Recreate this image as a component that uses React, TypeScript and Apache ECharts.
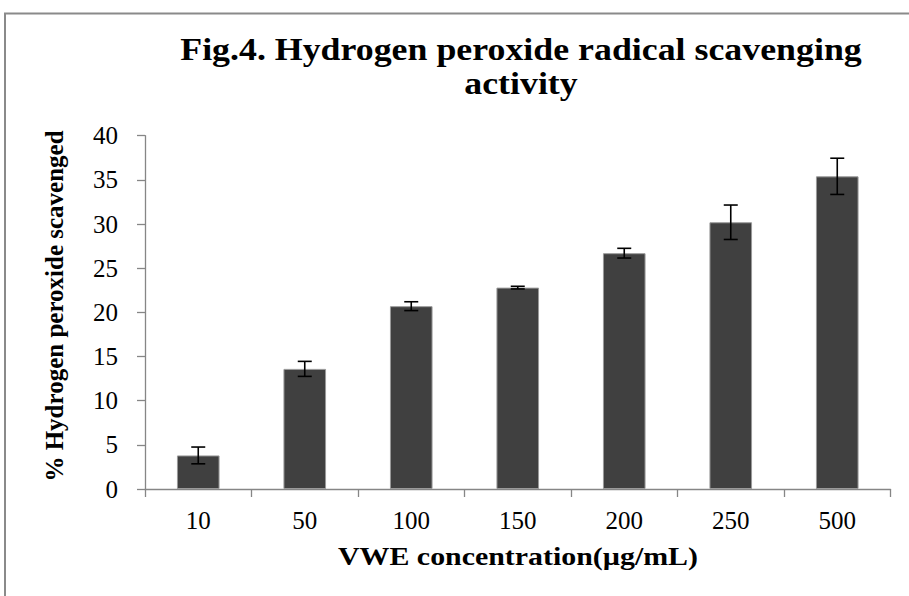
import React, { useEffect, useRef } from "react";
import * as echarts from "echarts";

const categories = ["10", "50", "100", "150", "200", "250", "500"];
const values = [3.8, 13.6, 20.7, 22.8, 26.7, 30.2, 35.4];
const errors = [0.95, 0.85, 0.5, 0.15, 0.55, 1.95, 2.05];
const yTicks = { min: 0, max: 40, interval: 5 };
const titleLines = ["Fig.4. Hydrogen peroxide radical scavenging", "activity"];
const xName = "VWE concentration(µg/mL)";
const yName = "% Hydrogen peroxide scavenged";

export default function App() {
  const ref = useRef<HTMLDivElement>(null);
  useEffect(() => {
    if (!ref.current) return;
    const chart = echarts.init(ref.current, null, { renderer: "svg" });
    const serif = "Liberation Serif";
    const errData = values.map((v, i) => [i, v - errors[i], v + errors[i]]);
    const textStyle = (text: string, size: number) => ({
      text,
      fontFamily: serif,
      fontSize: size,
      fontWeight: "bold",
      fill: "#000",
      align: "center",
      verticalAlign: "middle",
      textAlign: "center",
      textVerticalAlign: "middle",
    });
    chart.setOption({
      animation: false,
      backgroundColor: "#ffffff",
      grid: { left: 145, right: 18.5, top: 135.7, bottom: 107, containLabel: false },
      xAxis: {
        type: "category",
        data: categories,
        boundaryGap: true,
        axisLine: { lineStyle: { color: "#868686", width: 1.3 } },
        axisTick: { show: true, length: 8, inside: false, alignWithLabel: false, lineStyle: { color: "#868686", width: 1.3 } },
        axisLabel: { fontFamily: serif, fontSize: 25, color: "#000", margin: 19 },
        splitLine: { show: false },
      },
      yAxis: {
        type: "value",
        min: yTicks.min,
        max: yTicks.max,
        interval: yTicks.interval,
        axisLine: { show: true, lineStyle: { color: "#868686", width: 1.3 } },
        axisTick: { show: true, length: 8, lineStyle: { color: "#868686", width: 1.3 } },
        axisLabel: { fontFamily: serif, fontSize: 25, color: "#000", margin: 27 },
        splitLine: { show: false },
      },
      series: [
        {
          type: "bar",
          data: values,
          barWidth: "40%",
          itemStyle: { color: "#404040", borderColor: "#9a9a9a", borderWidth: 1 },
        },
        {
          type: "custom",
          data: errData,
          z: 10,
          renderItem: (params: any, api: any) => {
            const x = api.coord([api.value(0), 0])[0];
            const lo = api.coord([api.value(0), api.value(1)])[1];
            const hi = api.coord([api.value(0), api.value(2)])[1];
            const hw = 7;
            const st = { stroke: "#000", lineWidth: 1.6 };
            return {
              type: "group",
              children: [
                { type: "line", shape: { x1: x, y1: lo, x2: x, y2: hi }, style: st },
                { type: "line", shape: { x1: x - hw, y1: lo, x2: x + hw, y2: lo }, style: st },
                { type: "line", shape: { x1: x - hw, y1: hi, x2: x + hw, y2: hi }, style: st },
              ],
            };
          },
        },
      ],
      graphic: [
        {
          type: "rect",
          shape: { x: 5, y: 13.5, width: 940, height: 620 },
          style: { fill: "none", stroke: "#8a8a8a", lineWidth: 2 },
          silent: true,
        },
        { type: "text", x: 521, y: 49, scaleX: 1.12, style: textStyle(titleLines[0], 32) },
        { type: "text", x: 521, y: 83, scaleX: 1.12, style: textStyle(titleLines[1], 32) },
        { type: "text", x: 518, y: 556, scaleX: 1.15, style: textStyle(xName, 26) },
        { type: "text", x: 54, y: 306, rotation: Math.PI / 2, style: textStyle(yName, 25) },
      ],
    });
    return () => chart.dispose();
  }, []);
  return <div ref={ref} style={{ width: 909, height: 596, position: "absolute", left: 0, top: 0 }} />;
}
